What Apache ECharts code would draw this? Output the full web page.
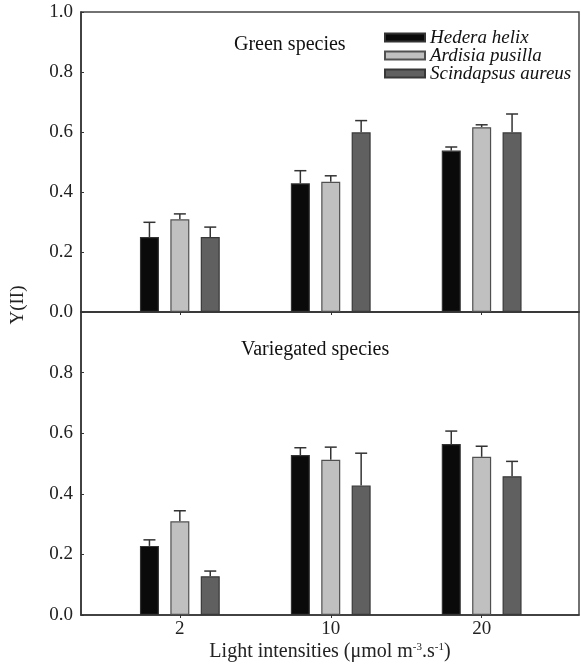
<!DOCTYPE html>
<html>
<head>
<meta charset="utf-8">
<script src="https://cdn.jsdelivr.net/npm/echarts@6/dist/echarts.min.js"></script>
<style>
  html, body { margin: 0; padding: 0; background: #fff; }
  #bar-charts { width: 581px; height: 664px; }
</style>
</head>
<body>
<div id="bar-charts"></div>
<script>
// categories (light intensity) and species
var xLabels = ["2", "10", "20"];
var species = ["Hedera helix", "Ardisia pusilla", "Scindapsus aureus"];
var yTicks = [0, 0.2, 0.4, 0.6, 0.8, 1.0];

// Green species: means and error (upper only)
var greenHedera = [0.25, 0.429, 0.538];
var greenArdisia = [0.309, 0.434, 0.616];
var greenScind = [0.25, 0.599, 0.599];
var greenHederaErr = [0.049, 0.042, 0.012];
var greenArdisiaErr = [0.018, 0.02, 0.008];
var greenScindErr = [0.033, 0.039, 0.061];

// Variegated species
var varHedera = [0.228, 0.528, 0.564];
var varArdisia = [0.309, 0.512, 0.522];
var varScind = [0.128, 0.427, 0.458];
var varHederaErr = [0.02, 0.024, 0.043];
var varArdisiaErr = [0.035, 0.042, 0.035];
var varScindErr = [0.017, 0.107, 0.049];

var fills = ["#0a0a0a", "#c0c0c0", "#606060"];
var edges = ["#333333", "#505050", "#383838"];
var BAR_W = 19;
var BAR_GAP = 0.6;
var FONT = "Liberation Serif";

var myCharts = echarts.init(document.getElementById("bar-charts"));

// bar series for one panel
function barSeries(gridIdx, values, k) {
  return {
    name: species[k],
    type: "bar",
    xAxisIndex: gridIdx,
    yAxisIndex: gridIdx,
    barWidth: BAR_W,
    barGap: (BAR_GAP * 100) + "%",
    itemStyle: { color: fills[k], borderColor: edges[k], borderWidth: 1.2 },
    data: values.map(function (v, i) { return [i, v]; }),
    z: 2
  };
}

// error bars drawn as custom series
function errSeries(gridIdx, values, errs, k) {
  var off = (k - 1) * BAR_W * (1 + BAR_GAP);
  return {
    type: "custom",
    xAxisIndex: gridIdx,
    yAxisIndex: gridIdx,
    encode: { x: 0, y: 1 },
    silent: true,
    z: 1,
    data: values.map(function (v, i) { return [i, v, errs[i]]; }),
    renderItem: function (params, api) {
      var p0 = api.coord([api.value(0), api.value(1)]);
      var p1 = api.coord([api.value(0), api.value(1) + api.value(2)]);
      var x = p0[0] + off;
      var st = { stroke: "#333", lineWidth: 1.5 };
      return {
        type: "group",
        children: [
          { type: "line", shape: { x1: x, y1: p0[1], x2: x, y2: p1[1] }, style: st },
          { type: "line", shape: { x1: x - 6, y1: p1[1], x2: x + 6, y2: p1[1] }, style: st }
        ]
      };
    }
  };
}

function xAxisOpt(gridIdx, showLabel) {
  var ax = {
    type: "value",
    gridIndex: gridIdx,
    min: -0.655,
    max: 2.645,
    splitLine: { show: false },
    axisLine: { show: true, onZero: false, lineStyle: { color: "#333", width: 1.5 } },
    axisTick: { show: true, length: 3, customValues: [0, 1, 2], lineStyle: { color: "#333" } },
    axisLabel: {
      show: showLabel,
      customValues: [0, 1, 2],
      formatter: function (v) { return xLabels[Math.round(v)]; },
      fontFamily: FONT, fontSize: 19, color: "#222", margin: 5
    }
  };
  if (showLabel) {
    ax.name = "Light intensities (\u03bcmol m{sup|-3}.s{sup|-1})";
    ax.nameLocation = "middle";
    ax.nameGap = 27;
    ax.nameTextStyle = {
      fontFamily: FONT, fontSize: 20, color: "#222",
      rich: { sup: { fontFamily: FONT, fontSize: 11, color: "#222", verticalAlign: "top", lineHeight: 12 } }
    };
  }
  return ax;
}

function yAxisOpt(gridIdx, hideTop) {
  return {
    type: "value",
    gridIndex: gridIdx,
    min: 0,
    max: 1,
    interval: 0.2,
    splitLine: { show: false },
    axisLine: { show: true, onZero: false, lineStyle: { color: "#333", width: 1.5 } },
    axisTick: { show: true, inside: true, length: 3, lineStyle: { color: "#333" } },
    axisLabel: {
      fontFamily: FONT, fontSize: 19, color: "#222", margin: 8,
      showMaxLabel: !hideTop,
      formatter: function (v) { return v.toFixed(1); }
    }
  };
}

var options = {
  animation: false,
  backgroundColor: "#fff",
  title: [
    { text: "Green species", left: 229, top: 30,
      textStyle: { fontFamily: FONT, fontSize: 20, fontWeight: "normal", color: "#111" } },
    { text: "Variegated species", left: 236, top: 335,
      textStyle: { fontFamily: FONT, fontSize: 20, fontWeight: "normal", color: "#111" } }
  ],
  legend: {
    data: species,
    orient: "vertical",
    left: 379,
    top: 23,
    itemWidth: 40,
    itemHeight: 8,
    itemGap: -1,
    icon: "rect",
    textStyle: { fontFamily: FONT, fontStyle: "italic", fontSize: 19, color: "#111", lineHeight: 18 }
  },
  graphic: [
    { type: "text", x: 18, y: 305, rotation: Math.PI / 2,
      style: { text: "Y(II)", font: "19px 'Liberation Serif'", fill: "#222",
        textAlign: "center", textVerticalAlign: "middle" } }
  ],
  grid: [
    { left: 81, top: 12, width: 498, height: 300, show: true, borderColor: "#444", borderWidth: 1.5 },
    { left: 81, top: 312, width: 498, height: 303, show: true, borderColor: "#444", borderWidth: 1.5 }
  ],
  xAxis: [xAxisOpt(0, false), xAxisOpt(1, true)],
  yAxis: [yAxisOpt(0, false), yAxisOpt(1, true)],
  series: [
    barSeries(0, greenHedera, 0),
    barSeries(0, greenArdisia, 1),
    barSeries(0, greenScind, 2),
    barSeries(1, varHedera, 0),
    barSeries(1, varArdisia, 1),
    barSeries(1, varScind, 2),
    errSeries(0, greenHedera, greenHederaErr, 0),
    errSeries(0, greenArdisia, greenArdisiaErr, 1),
    errSeries(0, greenScind, greenScindErr, 2),
    errSeries(1, varHedera, varHederaErr, 0),
    errSeries(1, varArdisia, varArdisiaErr, 1),
    errSeries(1, varScind, varScindErr, 2)
  ]
};

myCharts.setOption(options);
</script>
</body>
</html>
